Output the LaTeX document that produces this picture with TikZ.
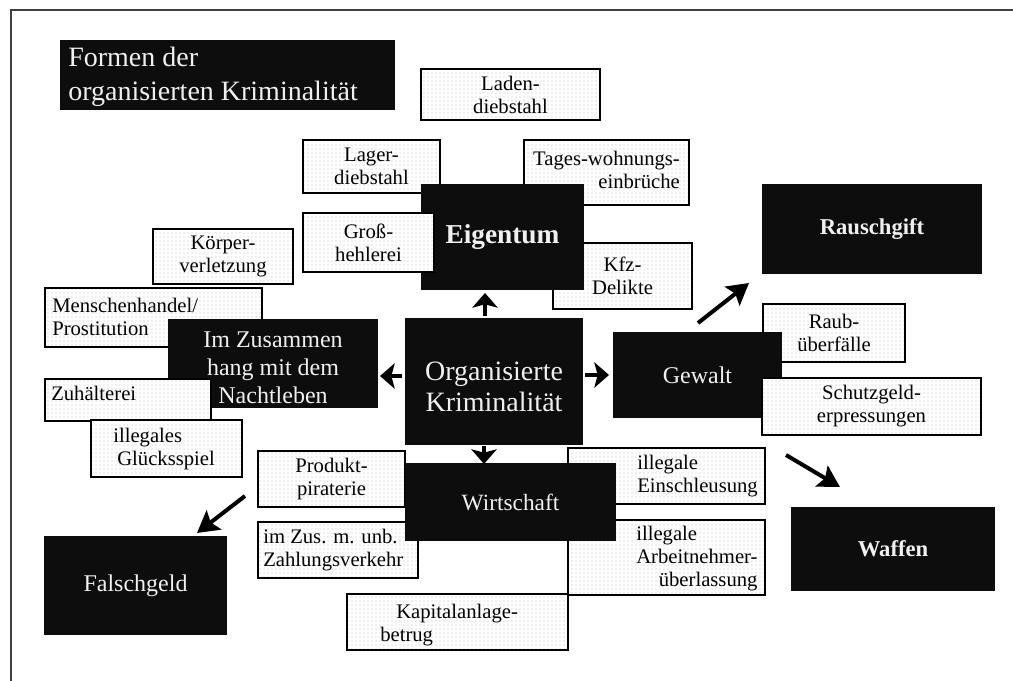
\documentclass[tikz,border=0pt]{standalone}
\usepackage{fontspec}
\setmainfont{Liberation Serif}
\usetikzlibrary{fit,patterns,arrows.meta}
\newcommand\mytab[2]{\begin{tabular}[t]{@{}#1@{}}#2\end{tabular}}
\newcommand\lightfont{\fontsize{15.5}{17.25}\selectfont}
\begin{document}
\begin{tikzpicture}[x=0.75pt, y=-0.75pt,
  lightbox/.style={draw=black, line width=1.1pt,
    preaction={fill=white}, preaction={pattern=dots, pattern color=gray!50},
    inner sep=0pt},
  darkbox/.style={fill=black!95, draw=none, inner sep=0pt},
  ltext/.style={inner sep=0pt, align=center, font=\lightfont},
  dtext/.style={inner sep=0pt, align=center, text=white!94!black},
  lbl/.style={inner sep=0pt, anchor=base west, font=\lightfont},
  bigarrow/.style={line width=3pt, -{Stealth[width=18pt,length=16pt,inset=3pt]}},
  smallarrow/.style={line width=3pt, -{Stealth[width=19pt,length=11pt,inset=2.5pt]}}]
\useasboundingbox (0,0) rectangle (1013,681);
% frame
\draw[line width=1.4pt, black!75] (11,681) -- (11,10) -- (1013,10);
% title
\node[darkbox, fit={(60,40) (395,110)}] (title) {};
\node[lbl, text=white!94!black, font=\fontsize{21}{25.5}\selectfont] (titleT) at (68,67) {\mytab{l}{Formen der\\organisierten Kriminalität}};
% Eigentum group
\node[lightbox, fit={(421,69) (600,120)}] (laden) {};
\node[ltext] (ladenT) at (laden.center) {Laden-\\diebstahl};
\node[lightbox, fit={(303,140) (440,193)}] (lager) {};
\node[ltext] (lagerT) at (lager.center) {Lager-\\diebstahl};
\node[lightbox, fit={(524,140) (689,205)}] (tages) {};
\node[ltext] (tagesT) at (tages.center) {\mytab{r}{Tages-wohnungs-\\einbrüche}};
\node[lightbox, fit={(553,243) (692,309)}] (kfz) {};
\node[ltext] (kfzT) at (kfz.center) {Kfz-\\Delikte};
\node[darkbox, fit={(421,184) (584,290)}] (eig) {};
\node[dtext, font=\bfseries\fontsize{20.5}{24}\selectfont] (eigT) at (eig.center) {Eigentum};
\node[lightbox, fit={(303,213) (434,272)}] (gross) {};
\node[ltext] (grossT) at (gross.center) {Groß-\\hehlerei};
% Nachtleben group
\node[lightbox, fit={(153,229) (293,284)}] (koerper) {};
\node[ltext] (koerperT) at (koerper.center) {Körper-\\verletzung};
\node[lightbox, fit={(45,288) (262,347)}] (mensch) {};
\node[lbl] (menschT) at (52,312) {\mytab{l}{Menschenhandel/\\Prostitution}};
\node[darkbox, fit={(168,319) (378,408)}] (nacht) {};
\node[dtext, font=\fontsize{18}{21}\selectfont] (nachtT) at ([yshift=-3pt]nacht.center) {Im Zusammen\\hang mit dem\\Nachtleben};
\node[lightbox, fit={(45,379) (211,421)}] (zuh) {};
\node[lbl] (zuhT) at (51,400) {Zuhälterei};
\node[lightbox, fit={(91,420) (242,477)}] (gluck) {};
\node[lbl] (gluckT) at (113,442) {\mytab{l}{illegales\\\hspace{3pt}Glücksspiel}};
% centre
\node[darkbox, fit={(405,318) (583,445)}] (ok) {};
\node[dtext, font=\fontsize{21}{23}\selectfont] (okT) at ([yshift=-4pt]ok.center) {Organisierte\\Kriminalität};
% Gewalt group
\node[lightbox, fit={(763,304) (905,362)}] (raub) {};
\node[ltext] (raubT) at (raub.center) {Raub-\\überfälle};
\node[darkbox, fit={(613,332) (782,418)}] (gew) {};
\node[dtext, font=\fontsize{18}{21}\selectfont] (gewT) at (gew.center) {Gewalt};
\node[lightbox, fit={(762,378) (981,435)}] (schutz) {};
\node[ltext] (schutzT) at (schutz.center) {Schutzgeld-\\erpressungen};
\node[darkbox, fit={(762,184) (982,274)}] (rausch) {};
\node[dtext, font=\bfseries\fontsize{17}{20}\selectfont] (rauschT) at (rausch.center) {Rauschgift};
% Wirtschaft group
\node[lightbox, fit={(258,451) (405,507)}] (prod) {};
\node[ltext] (prodT) at (prod.center) {Produkt-\\piraterie};
\node[lightbox, fit={(258,522) (418,578)}] (zus) {};
\node[lbl] (zusT) at (263,543) {\mytab{l}{im Zus. m. unb.\\Zahlungsverkehr}};
\node[lightbox, fit={(568,448) (765,504)}] (ein) {};
\node[lbl] (einT) at (637,469) {\mytab{l}{illegale\\Einschleusung}};
\node[lightbox, fit={(568,520) (765,595)}] (arb) {};
\node[lbl] (arbT) at (636,540) {\mytab{l}{illegale\\Arbeitnehmer-\\\multicolumn{1}{@{}r@{}}{überlassung}}};
\node[darkbox, fit={(405,463) (616,541)}] (wirt) {};
\node[dtext, font=\fontsize{17.5}{21}\selectfont] (wirtT) at (wirt.center) {Wirtschaft};
\node[lightbox, fit={(347,594) (568,650)}] (kap) {};
\node[lbl] (kapT) at (380,618) {\mytab{l}{\hspace{12pt}Kapitalanlage-\\betrug}};
% outer black boxes
\node[darkbox, fit={(791,507) (995,591)}] (waf) {};
\node[dtext, font=\bfseries\fontsize{17}{20}\selectfont] (wafT) at (waf.center) {Waffen};
\node[darkbox, fit={(44,536) (227,635)}] (falsch) {};
\node[dtext, font=\fontsize{18}{21}\selectfont] (falschT) at (falsch.center) {Falschgeld};
% arrows
\coordinate (upA) at (485,316); \coordinate (upB) at (485,293);
\coordinate (dnA) at (484,446); \coordinate (dnB) at (484,464);
\coordinate (ltA) at (402,376); \coordinate (ltB) at (380,376);
\coordinate (rtA) at (585,375); \coordinate (rtB) at (609,375);
\coordinate (raA) at (698,323); \coordinate (raB) at (749,283);
\coordinate (waA) at (786,455); \coordinate (waB) at (840,487);
\coordinate (faA) at (245,496); \coordinate (faB) at (197,533);
\draw[smallarrow] (upA) -- (upB);
\draw[smallarrow] (dnA) -- (dnB);
\draw[smallarrow] (ltA) -- (ltB);
\draw[smallarrow] (rtA) -- (rtB);
\draw[bigarrow] (raA) -- (raB);
\draw[bigarrow] (waA) -- (waB);
\draw[bigarrow] (faA) -- (faB);
\end{tikzpicture}
\end{document}
